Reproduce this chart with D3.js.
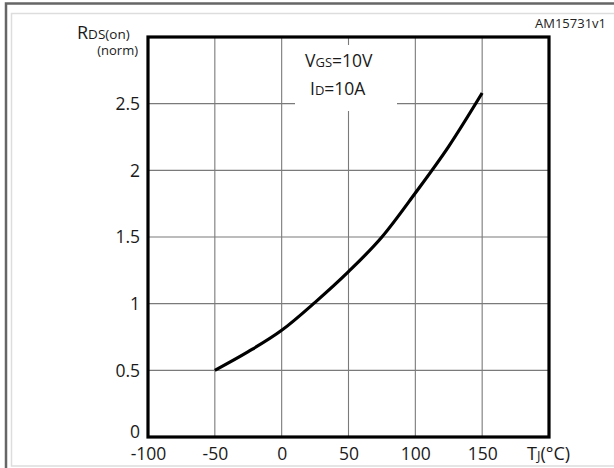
<!DOCTYPE html>
<html><head><meta charset="utf-8">
<script src="https://cdn.jsdelivr.net/npm/d3@7"></script>
<style>
html,body{margin:0;padding:0;background:#fff;}
svg{display:block;font-family:"Open Sans","Noto Sans",sans-serif;}
</style></head>
<body>
<svg id="c" width="614" height="468"></svg>
<script>
const temps = [-50, -25, 0, 25, 50, 75, 100, 125, 150];
const rdsOn = [0.50, 0.64, 0.80, 1.01, 1.24, 1.50, 1.83, 2.18, 2.58];
const xTicks = [-100, -50, 0, 50, 100, 150];
const xTickLabels = ["-100", "-50", "0", "50", "100", "150"];
const xGrid = [-50, 0, 50, 100, 150];
const yTicks = [0, 0.5, 1, 1.5, 2, 2.5];
const yTickLabels = ["0", "0.5", "1", "1.5", "2", "2.5"];
const yGrid = [0.5, 1, 1.5, 2, 2.5];

const svg = d3.select("#c");
const x = d3.scaleLinear().domain([-100, 200]).range([148, 549]);
const y = d3.scaleLinear().domain([0, 3]).range([437, 37]);

// outer frames
svg.append("rect").attr("x", 6).attr("y", 3.5).attr("width", 700).attr("height", 600)
  .attr("fill", "none").attr("stroke", "#666").attr("stroke-width", 2.5);
svg.append("rect").attr("x", 11.5).attr("y", 13.5).attr("width", 700).attr("height", 452.5)
  .attr("fill", "none").attr("stroke", "#ddd").attr("stroke-width", 1.5);

// grid
const g = svg.append("g");
g.selectAll(".vg").data(xGrid).join("line")
  .attr("x1", d => x(d)).attr("x2", d => x(d)).attr("y1", y(3)).attr("y2", y(0))
  .attr("stroke", "#7a7a7a").attr("stroke-width", 1.1);
g.selectAll(".hg").data(yGrid).join("line")
  .attr("x1", x(-100)).attr("x2", x(200)).attr("y1", d => y(d)).attr("y2", d => y(d))
  .attr("stroke", "#7a7a7a").attr("stroke-width", 1.1);

// white box behind annotation
svg.append("rect").attr("x", 295).attr("y", 45).attr("width", 102).attr("height", 66).attr("fill", "#fff");

// frame
svg.append("rect").attr("x", x(-100)).attr("y", y(3)).attr("width", x(200) - x(-100)).attr("height", y(0) - y(3))
  .attr("fill", "none").attr("stroke", "#000").attr("stroke-width", 3.2);

// curve
const line = d3.line().x((d, i) => x(temps[i])).y(d => y(d)).curve(d3.curveMonotoneX);
svg.append("path").attr("d", line(rdsOn)).attr("fill", "none")
  .attr("stroke", "#000").attr("stroke-width", 3.2).attr("stroke-linejoin", "round");

// x axis labels
const xAxis = d3.axisBottom(x).tickValues(xTicks).tickSize(0).tickPadding(0)
  .tickFormat((d, i) => xTickLabels[i]);
const xa = svg.append("g").attr("transform", "translate(0,460)").call(xAxis);
xa.select(".domain").remove();
xa.selectAll("text").attr("dy", 0).attr("y", 0).attr("font-size", 17.5).attr("fill", "#1a1a1a")
  .attr("font-family", "Open Sans, Noto Sans, sans-serif");

// y axis labels
const yAxis = d3.axisLeft(y).tickValues(yTicks).tickSize(0).tickPadding(8)
  .tickFormat((d, i) => yTickLabels[i]);
const ya = svg.append("g").call(yAxis);
ya.attr("transform", "translate(" + x(-100) + ",0)");
ya.select(".domain").remove();
ya.selectAll("text").attr("font-size", 17.5).attr("fill", "#1a1a1a")
  .attr("font-family", "Open Sans, Noto Sans, sans-serif")
  .attr("dy", d => d === 0 ? "0em" : "0.33em");

// axis titles
const yt = svg.append("text").attr("x", 77).attr("y", 39).attr("fill", "#1a1a1a");
yt.append("tspan").attr("font-size", 18).text("R");
yt.append("tspan").attr("font-size", 13.5).text("DS(on)");
svg.append("text").attr("x", 138).attr("y", 55).attr("text-anchor", "end")
  .attr("font-size", 13).attr("fill", "#1a1a1a").text("(norm)");

const xt = svg.append("text").attr("x", 527).attr("y", 460).attr("fill", "#1a1a1a");
xt.append("tspan").attr("font-size", 18).text("T");
xt.append("tspan").attr("font-size", 13).text("J");
xt.append("tspan").attr("font-size", 18).text("(°C)");

// annotation
const a1 = svg.append("text").attr("x", 305).attr("y", 67).attr("fill", "#1a1a1a");
a1.append("tspan").attr("font-size", 17.5).text("V");
a1.append("tspan").attr("font-size", 13).text("GS");
a1.append("tspan").attr("font-size", 17.5).text("=10V");
const a2 = svg.append("text").attr("x", 310).attr("y", 95).attr("fill", "#1a1a1a");
a2.append("tspan").attr("font-size", 17.5).text("I");
a2.append("tspan").attr("font-size", 13).text("D");
a2.append("tspan").attr("font-size", 17.5).text("=10A");

svg.append("text").attr("x", 606).attr("y", 28).attr("text-anchor", "end")
  .attr("font-size", 13).attr("fill", "#222").text("AM15731v1");
</script>
</body></html>
